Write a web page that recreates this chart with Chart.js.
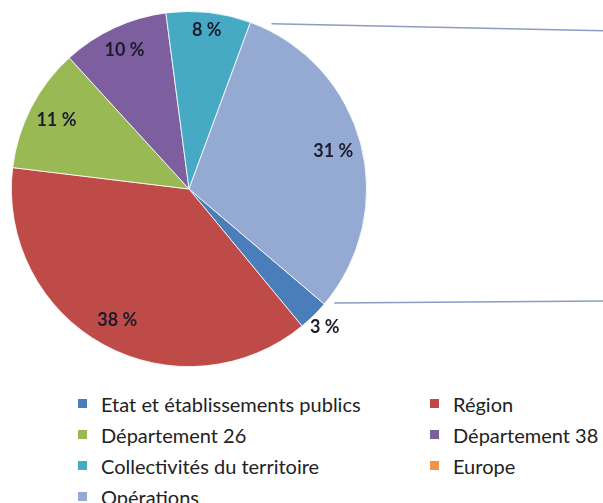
<!DOCTYPE html>
<html lang="fr">
<head>
<meta charset="utf-8">
<script src="https://cdn.jsdelivr.net/npm/chart.js@4"></script>
<style>
  html, body { margin: 0; padding: 0; background: #fff; }
  #wrap { position: relative; width: 603px; height: 503px; overflow: hidden; }
  #pie { position: absolute; left: 0; top: 0; }
  #legend {
    position: absolute; left: 78px; top: 388px;
    display: grid; grid-template-columns: 352px 160px;
    grid-auto-rows: 31px;
    font-family: Lato, "Open Sans", sans-serif; font-size: 20px; color: #222;
  }
  #legend .item { display: flex; align-items: center; white-space: nowrap; }
  #legend .box { width: 9px; height: 9px; margin-right: 14px; flex: none; }
</style>
</head>
<body>
<div id="wrap">
  <canvas id="pie" width="603" height="385"></canvas>
  <div id="legend"></div>
</div>
<script>
  // Répartition des financements (en %)
  const labels = [
    'Etat et établissements publics',
    'Région',
    'Département 26',
    'Département 38',
    'Collectivités du territoire',
    'Europe',
    'Opérations'
  ];
  const shares = [2.8, 37.9, 11.3, 9.7, 7.7, 0, 30.6];
  const colors = ['#4a7ebb', '#be4b48', '#98b954', '#7d5fa0', '#46aac4', '#f3934a', '#95aad3'];

  // how far from the centre each % label sits (fraction of radius)
  const labelRadius = [1.09, 0.84, 0.84, 0.86, 0.9, 0.85, 0.84];

  // labels drawn on the slices
  const sliceLabels = {
    id: 'sliceLabels',
    afterDatasetsDraw(chart) {
      const ctx = chart.ctx;
      const arcs = chart.getDatasetMeta(0).data;
      ctx.save();
      ctx.font = 'bold 18px Lato, "Open Sans", sans-serif';
      ctx.fillStyle = '#1c1c2c';
      ctx.textAlign = 'center';
      ctx.textBaseline = 'middle';
      arcs.forEach((arc, i) => {
        if (!shares[i]) return;
        const a = (arc.startAngle + arc.endAngle) / 2;
        const r = arc.outerRadius * labelRadius[i];
        ctx.fillText(Math.round(shares[i]) + ' %', arc.x + Math.cos(a) * r, arc.y + Math.sin(a) * r);
      });
      ctx.restore();
    }
  };

  // leader lines from the "Opérations" slice towards the (cropped) secondary chart
  const connectors = {
    id: 'connectors',
    afterDatasetsDraw(chart) {
      const ctx = chart.ctx;
      const arc = chart.getDatasetMeta(0).data[labels.length - 1];
      const r = arc.outerRadius + 7;
      const a1 = arc.startAngle + 0.11;
      const a2 = arc.endAngle - 0.04;
      const right = chart.width;
      ctx.save();
      ctx.strokeStyle = '#8d9dc2';
      ctx.lineWidth = 1.5;
      ctx.beginPath();
      ctx.moveTo(arc.x + Math.cos(a1) * r, arc.y + Math.sin(a1) * r);
      ctx.lineTo(right, arc.y + Math.sin(a1) * r + 7);
      ctx.moveTo(arc.x + Math.cos(a2) * r, arc.y + Math.sin(a2) * r);
      ctx.lineTo(right, arc.y + Math.sin(a2) * r - 2);
      ctx.stroke();
      ctx.restore();
    }
  };

  new Chart(document.getElementById('pie'), {
    type: 'pie',
    data: {
      labels: labels,
      datasets: [{
        data: shares,
        backgroundColor: colors,
        borderColor: '#ffffff',
        borderWidth: 0.8
      }]
    },
    options: {
      responsive: false,
      animation: false,
      rotation: 130.4,
      layout: { padding: { left: 11, top: 11, right: 236, bottom: 18 } },
      plugins: {
        legend: { display: false },
        tooltip: { enabled: false }
      }
    },
    plugins: [sliceLabels, connectors]
  });

  // HTML legend, two columns like the original
  const legend = document.getElementById('legend');
  labels.forEach((lab, i) => {
    const item = document.createElement('div');
    item.className = 'item';
    item.innerHTML = '<span class="box" style="background:' + colors[i] + '"></span>' + lab;
    legend.appendChild(item);
  });
</script>
</body>
</html>
